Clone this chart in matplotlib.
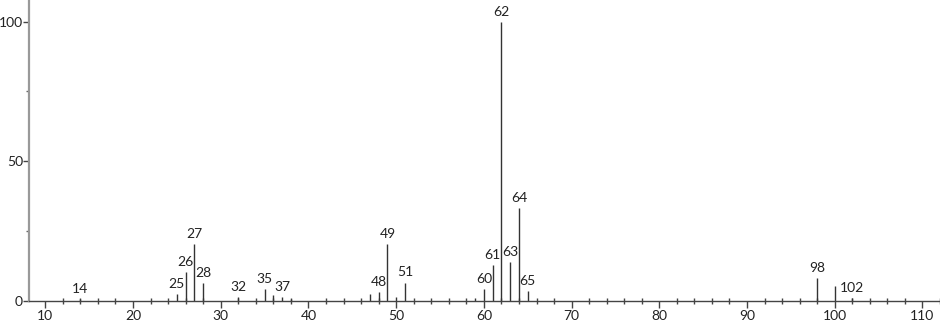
import matplotlib
matplotlib.use('Agg')
import matplotlib.pyplot as plt
from matplotlib.ticker import MultipleLocator

# m/z and relative intensity
mz = [14, 25, 26, 27, 28, 32, 35, 36, 37, 38, 47, 48, 49, 50, 51,
      59, 60, 61, 62, 63, 64, 65, 98, 100, 102]
intensity = [0.7, 2.3, 10.4, 20.3, 6.2, 1.3, 4.3, 2.0, 1.3, 0.5, 2.4, 3.1, 20.3, 1.3, 6.5,
             0.9, 4.1, 12.7, 100, 13.9, 33.2, 3.4, 8.0, 5.3, 0.9]
labeled = [14, 25, 26, 27, 28, 32, 35, 37, 48, 49, 51, 60, 61, 62, 63, 64, 65, 98, 102]

plt.rcParams['font.family'] = ['Lato', 'DejaVu Sans']

fig = plt.figure(figsize=(9.4, 3.23), dpi=100)
ax = fig.add_axes([29 / 940, 0.069, 911 / 940, 0.931])

ax.vlines(mz, 0, intensity, color='#333333', lw=1)
for m, v in zip(mz, intensity):
    if m in labeled:
        ax.annotate(str(m), (m, v), xytext=(0, 3), textcoords='offset points',
                    ha='center', va='bottom', fontsize=10, color='#222222')

ax.set_xlim(8.14, 112)
ax.set_ylim(0, 107.8)
ax.xaxis.set_major_locator(MultipleLocator(10))
ax.xaxis.set_minor_locator(MultipleLocator(2))
ax.yaxis.set_major_locator(MultipleLocator(50))
ax.yaxis.set_minor_locator(MultipleLocator(25))

for s in ['top', 'right']:
    ax.spines[s].set_visible(False)
ax.spines['left'].set_color('#999999')
ax.spines['left'].set_linewidth(1.6)
ax.spines['bottom'].set_color('#444444')
ax.spines['bottom'].set_linewidth(1)

ax.tick_params(axis='x', which='major', direction='out', length=5, width=1,
               color='#444444', labelsize=10, labelcolor='#222222', pad=2)
ax.tick_params(axis='x', which='minor', direction='inout', length=5, width=1, color='#444444')
ax.tick_params(axis='y', which='major', direction='out', length=4, width=1,
               color='#444444', labelsize=10, labelcolor='#222222', pad=0.3)
ax.tick_params(axis='y', which='minor', direction='out', length=2, width=1, color='#666666')

fig.savefig('out.png', dpi=100)
